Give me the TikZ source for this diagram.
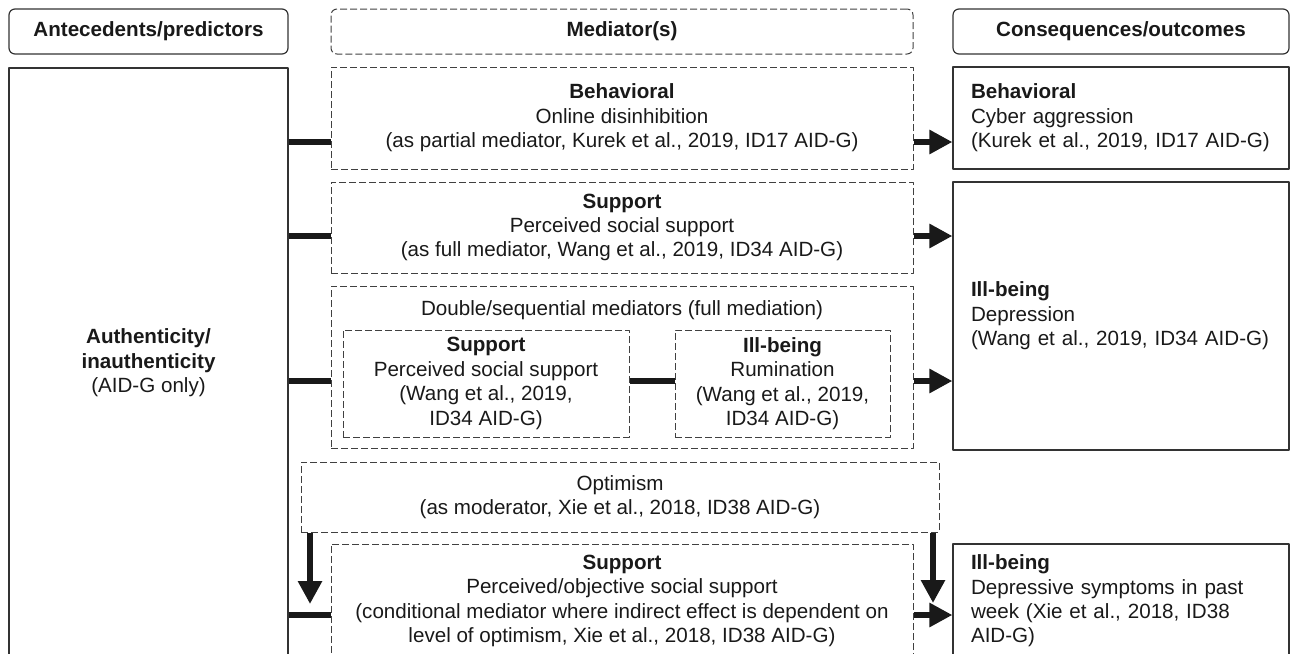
\documentclass[tikz,border=0pt]{standalone}
\usepackage{fontspec}
\setmainfont{Liberation Sans}
\usepackage{tikz}
\usetikzlibrary{arrows.meta}

\begin{document}
\begin{tikzpicture}[x=0.5pt,y=-0.5pt,line join=bevel,
  font=\fontsize{10.3}{12.2}\selectfont,text=black!90,
  hdr/.style={draw=black!80,line width=0.6pt,rounded corners=3pt,minimum height=22.5pt,inner sep=0pt,font=\fontsize{10.3}{12.2}\selectfont\bfseries},
  hdrdash/.style={hdr,draw=black!75,line width=0.5pt,dash pattern=on 3.5pt off 1.5pt},
  sbox/.style={draw=black!80,line width=0.6pt,inner sep=0pt,align=center},
  dbox/.style={draw=black!75,line width=0.5pt,dash pattern=on 3.5pt off 1.5pt,inner sep=0pt,align=center},
  cbox/.style={sbox,align=left,text width=150pt,inner xsep=9pt},
  bar/.style={draw=black!90,line width=3.2pt},
  arr/.style={bar,-{Triangle[length=11.5pt,width=11.5pt]}}]

\useasboundingbox (0,0) rectangle (1293,653);
\clip (0,0) rectangle (1293,653);

\node[hdr,minimum width=139.5pt] (hante) at (148.5,31.5) {Antecedents/predictors};
\node[hdrdash,minimum width=291pt] (hmed) at (622,31.5) {Mediator(s)};
\node[hdr,minimum width=168pt] (hcons) at (1121,31.5) {Consequences/outcomes};

\node[sbox,minimum width=139.5pt,minimum height=295pt] (ante) at (148.5,363) {\textbf{Authenticity/}\\\textbf{inauthenticity}\\(AID-G only)};

\node[dbox,minimum width=291pt,minimum height=51pt] (med1) at (622,118) {\textbf{Behavioral}\\Online disinhibition\\(as partial mediator, Kurek et al., 2019, ID17 AID-G)};
\node[cbox,minimum height=51pt] (con1) at (1121,118) {\textbf{Behavioral}\\Cyber aggression\\(Kurek et al., 2019, ID17 AID-G)};

\node[dbox,minimum width=291pt,minimum height=45.5pt] (med2) at (622,227.5) {\textbf{Support}\\Perceived social support\\(as full mediator, Wang et al., 2019, ID34 AID-G)};
\node[cbox,minimum height=134pt] (con2) at (1121,316) {\textbf{Ill-being}\\Depression\\(Wang et al., 2019, ID34 AID-G)};

\node[dbox,minimum width=291pt,minimum height=81pt] (med3) at (622,367) {};
\node (med3t) at (622,310) {Double/sequential mediators (full mediation)};
\node[dbox,minimum width=143pt,minimum height=53.5pt] (supA) at (486,383.5) {\textbf{Support}\\Perceived social support\\(Wang et al., 2019,\\ID34 AID-G)};
\node[dbox,minimum width=107.5pt,minimum height=53.5pt] (illB) at (782.5,383.5) {\textbf{Ill-being}\\Rumination\\(Wang et al., 2019,\\ID34 AID-G)};

\node[dbox,minimum width=319pt,minimum height=35pt] (opt) at (620,497) {Optimism\\(as moderator, Xie et al., 2018, ID38 AID-G)};

\node[dbox,minimum width=291pt,minimum height=57pt] (med5) at (622,601) {\textbf{Support}\\Perceived/objective social support\\(conditional mediator where indirect effect is dependent on\\level of optimism, Xie et al., 2018, ID38 AID-G)};
\node[cbox,minimum height=57pt] (con5) at (1121,601) {\textbf{Ill-being}\\Depressive symptoms in past\\week (Xie et al., 2018, ID38\\AID-G)};

\draw[bar] ([yshift=-12pt]med1.west -| ante.east) -- ([yshift=-12pt]med1.west);
\draw[arr] ([yshift=-12pt]med1.east) -- ([yshift=-12pt]med1.east -| con1.west);

\draw[bar] ([yshift=-4.25pt]med2.west -| ante.east) -- ([yshift=-4.25pt]med2.west);
\draw[arr] ([yshift=-4.25pt]med2.east) -- ([yshift=-4.25pt]med2.east -| con2.west);

\draw[bar] ([yshift=-7pt]med3.west -| ante.east) -- ([yshift=-7pt]med3.west);
\draw[bar] ([yshift=1.25pt]supA.east) -- ([yshift=1.25pt]supA.east -| illB.west);
\draw[arr] ([yshift=-7pt]med3.east) -- ([yshift=-7pt]med3.east -| con2.west);

\coordinate (tipL) at (310,604);
\coordinate (tipR) at (933,603);
\draw[arr] (tipL |- opt.south) -- (tipL);
\draw[arr] (tipR |- opt.south) -- (tipR);

\draw[bar] ([yshift=-7pt]med5.west -| ante.east) -- ([yshift=-7pt]med5.west);
\draw[arr] ([yshift=-7pt]med5.east) -- ([yshift=-7pt]med5.east -| con5.west);

\end{tikzpicture}
\end{document}
